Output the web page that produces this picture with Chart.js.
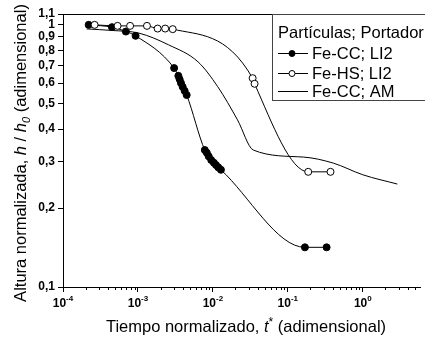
<!DOCTYPE html>
<html>
<head>
<meta charset="utf-8">
<script src="https://cdn.jsdelivr.net/npm/chart.js@4.4.1/dist/chart.umd.min.js"></script>
<style>
  html, body { margin: 0; padding: 0; background: #fff; }
</style>
</head>
<body>
<canvas id="grafico" width="425" height="339"></canvas>
<script>
//### Datos (t* , h/h0)
const feCC_LI2_t = [2.2e-4, 4.5e-4, 6.9e-4, 9.3e-4, 3.04e-3, 3.46e-3, 3.6e-3, 3.75e-3, 3.95e-3, 4.2e-3, 4.47e-3,
                    7.8e-3, 8.3e-3, 8.8e-3, 9.5e-3, 0.0103, 0.011, 0.0118, 0.0128, 0.169, 0.329]
const feCC_LI2_h = [1.0, 0.98, 0.943, 0.908, 0.684, 0.639, 0.62, 0.60, 0.58, 0.56, 0.54,
                    0.333, 0.325, 0.315, 0.305, 0.298, 0.292, 0.286, 0.280, 0.1417, 0.1417]

const feHS_LI2_t = [2.64e-4, 5.35e-4, 7.86e-4, 1.32e-3, 1.83e-3, 2.31e-3, 2.91e-3, 0.0339, 0.036, 0.187, 0.371]
const feHS_LI2_h = [1.0, 0.991, 0.991, 0.991, 0.968, 0.968, 0.963, 0.626, 0.596, 0.275, 0.275]

const feCC_AM_t = [2.07e-4, 4.5e-4, 1.03e-3, 2.56e-3, 6.35e-3, 0.0116, 0.0213, 0.0346, 0.162, 0.403, 1.0, 2.89]
const feCC_AM_h = [0.965, 0.952, 0.93, 0.839, 0.722, 0.581, 0.434, 0.333, 0.313, 0.297, 0.268, 0.247]

//### Ejes
const xTicks = [1e-4, 1e-3, 1e-2, 1e-1, 1]
const xTickBase = '10'
const xTickExp = ['-4', '-3', '-2', '-1', '0']
const yTicks = [0.1, 0.2, 0.3, 0.4, 0.5, 0.6, 0.7, 0.8, 0.9, 1, 1.1]
const yTickLabels = ['0,1', '0,2', '0,3', '0,4', '0,5', '0,6', '0,7', '0,8', '0,9', '1', '1,1']
const xMin = 1e-4, xMax = 5.8
const yMin = 0.1, yMax = 1.1

//### Leyenda
const legendTitle = 'Partículas; Portador'
const legendNames = ['Fe-CC; LI2', 'Fe-HS; LI2', 'Fe-CC; AM']

const FONT = '"Liberation Sans", Arial, sans-serif'

function pares(t, h) {
  return t.map((v, i) => ({x: v, y: h[i]}))
}

// dibuja un texto con partes de distinto estilo, centrado en x
function textoMixto(ctx, partes, x, y) {
  let w = 0
  partes.forEach(p => { ctx.font = p.font; w += ctx.measureText(p.t).width })
  let cx = x - w / 2
  partes.forEach(p => {
    ctx.font = p.font
    ctx.fillText(p.t, cx, y + (p.dy || 0))
    cx += ctx.measureText(p.t).width
  })
}

const extras = {
  id: 'extras',
  afterDraw(chart) {
    const ctx = chart.ctx
    const a = chart.chartArea
    const xs = chart.scales.x
    ctx.save()
    ctx.strokeStyle = '#000'
    ctx.fillStyle = '#000'
    ctx.lineWidth = 1

    // linea superior del marco
    ctx.beginPath()
    ctx.moveTo(a.left, a.top + 0.5)
    ctx.lineTo(a.right, a.top + 0.5)
    ctx.stroke()

    // ticks menores del eje x
    ctx.beginPath()
    for (let d = -4; d <= 0; d++) {
      for (let k = 2; k <= 9; k++) {
        const v = k * Math.pow(10, d)
        if (v > xs.max) break
        const px = Math.round(xs.getPixelForValue(v)) + 0.5
        ctx.moveTo(px, a.bottom)
        ctx.lineTo(px, a.bottom + 3)
      }
    }
    ctx.stroke()

    // etiquetas del eje x: 10 con exponente
    ctx.textBaseline = 'alphabetic'
    ctx.textAlign = 'left'
    xTicks.forEach((v, i) => {
      const px = xs.getPixelForValue(v)
      textoMixto(ctx, [
        {t: xTickBase, font: 'bold 12px ' + FONT},
        {t: xTickExp[i], font: 'bold 8px ' + FONT, dy: -6}
      ], px, a.bottom + 20)
    })

    // titulo eje x
    const f = '16.5px ' + FONT, fi = 'italic 16.5px ' + FONT
    textoMixto(ctx, [
      {t: 'Tiempo normalizado, ', font: f},
      {t: 't', font: fi},
      {t: '*', font: '12px ' + FONT, dy: -6},
      {t: ' (adimensional)', font: f}
    ], 246, 332)

    // titulo eje y
    ctx.save()
    ctx.translate(26, 153)
    ctx.rotate(-Math.PI / 2)
    textoMixto(ctx, [
      {t: 'Altura normalizada, ', font: f},
      {t: 'h', font: fi},
      {t: ' / ', font: f},
      {t: 'h', font: fi},
      {t: '0', font: 'italic 11px ' + FONT, dy: 4},
      {t: ' (adimensional)', font: f}
    ], 0, 0)
    ctx.restore()

    // leyenda
    const lx = 272, ly = a.top
    ctx.fillStyle = '#fff'
    ctx.fillRect(lx, ly, 200, 86)
    ctx.strokeStyle = '#444'
    ctx.strokeRect(lx + 0.5, ly + 0.5, 200, 86)
    ctx.fillStyle = '#000'
    ctx.strokeStyle = '#000'
    ctx.font = f
    ctx.fillText(legendTitle, lx + 6, ly + 24)
    const filas = [45, 65, 83]
    chart.data.datasets.forEach((ds, i) => {
      const n = legendNames.indexOf(ds.label)
      const yb = ly + filas[n]
      const ym = Math.round(yb - 6) + 0.5
      ctx.beginPath()
      ctx.moveTo(lx + 6, ym)
      ctx.lineTo(lx + 36, ym)
      ctx.stroke()
      if (ds.pointRadius > 0) {
        ctx.beginPath()
        ctx.arc(lx + 20, ym, 3, 0, Math.PI * 2)
        ctx.fillStyle = ds.pointBackgroundColor
        ctx.fill()
        ctx.stroke()
        ctx.fillStyle = '#000'
      }
      ctx.font = f
      ctx.fillText(ds.label, lx + 40, yb)
    })
    ctx.restore()
  }
}

const ctx = document.getElementById('grafico').getContext('2d')
const grafico = new Chart(ctx, {
  type: 'line',
  data: {
    datasets: [{
      label: legendNames[2],
      data: pares(feCC_AM_t, feCC_AM_h),
      borderColor: '#000',
      borderWidth: 1,
      pointRadius: 0,
      cubicInterpolationMode: 'monotone'
    }, {
      label: legendNames[1],
      data: pares(feHS_LI2_t, feHS_LI2_h),
      borderColor: '#000',
      borderWidth: 1,
      pointRadius: 3.5,
      pointBorderWidth: 1,
      pointBorderColor: '#000',
      pointBackgroundColor: '#fff',
      cubicInterpolationMode: 'monotone'
    }, {
      label: legendNames[0],
      data: pares(feCC_LI2_t, feCC_LI2_h),
      borderColor: '#000',
      borderWidth: 1,
      pointRadius: 3.5,
      pointBorderWidth: 1,
      pointBorderColor: '#000',
      pointBackgroundColor: '#000',
      cubicInterpolationMode: 'monotone'
    }]
  },
  options: {
    responsive: false,
    animation: false,
    devicePixelRatio: 1,
    layout: {padding: {top: 14, left: 0, right: 0, bottom: 0}},
    plugins: {legend: {display: false}, tooltip: {enabled: false}},
    scales: {
      x: {
        type: 'logarithmic',
        min: xMin,
        max: xMax,
        afterBuildTicks: s => { s.ticks = xTicks.map(v => ({value: v})) },
        afterFit: s => { s.height = 52 },
        grid: {drawOnChartArea: false, drawTicks: true, tickLength: 5, color: '#000'},
        border: {display: true, color: '#000', width: 1},
        ticks: {display: false}
      },
      y: {
        type: 'logarithmic',
        min: yMin,
        max: yMax,
        afterBuildTicks: s => { s.ticks = yTicks.map(v => ({value: v})) },
        afterFit: s => { s.width = 63 },
        grid: {drawOnChartArea: false, drawTicks: true, tickLength: 5, color: '#000'},
        border: {display: true, color: '#000', width: 1},
        ticks: {
          autoSkip: false,
          padding: 3,
          color: '#000',
          font: {family: FONT, size: 12, weight: 'bold'},
          callback: v => yTickLabels[yTicks.indexOf(v)]
        }
      }
    }
  },
  plugins: [extras]
})
</script>
</body>
</html>
